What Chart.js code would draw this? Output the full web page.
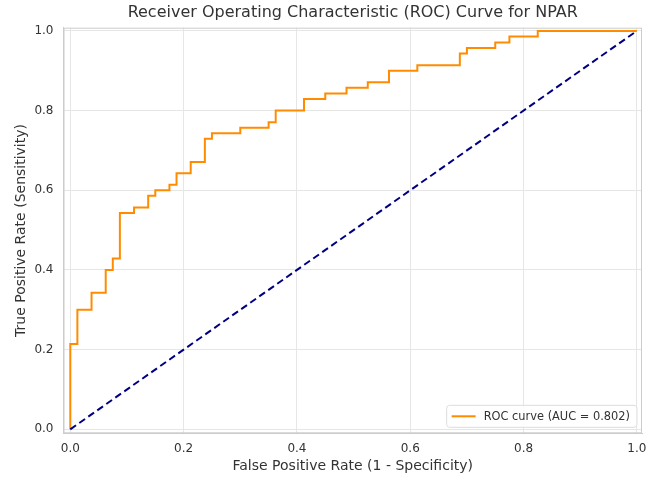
<!DOCTYPE html>
<html>
<head>
<meta charset="utf-8">
<script src="https://cdn.jsdelivr.net/npm/chart.js@4"></script>
<style>
  html, body { margin: 0; padding: 0; background: #fff; }
  #wrap { width: 648px; height: 478px; }
</style>
</head>
<body>
<div id="wrap"><canvas id="roc" width="648" height="478"></canvas></div>
<script>
// ROC curve (step corners)
const fpr = [0, 0, 0.0125, 0.0375, 0.0625, 0.075, 0.0875, 0.1125, 0.1375, 0.15,
  0.175, 0.1875, 0.2125, 0.2375, 0.25, 0.3, 0.35, 0.3625, 0.4125, 0.45,
  0.4875, 0.525, 0.5625, 0.6125, 0.6875, 0.7, 0.75, 0.775, 0.825, 1.0];
const tpr = [0, 0.214, 0.300, 0.343, 0.400, 0.429, 0.543, 0.557, 0.586, 0.600,
  0.614, 0.643, 0.671, 0.729, 0.743, 0.757, 0.771, 0.800, 0.829, 0.843,
  0.857, 0.871, 0.900, 0.914, 0.943, 0.957, 0.971, 0.986, 1.0, 1.0];
const chanceX = [0, 1];
const chanceY = [0, 1];
const tickValues = [0, 0.2, 0.4, 0.6, 0.8, 1.0];
const rocLabel = 'ROC curve (AUC = 0.802)';

const FONT = "'DejaVu Sans', sans-serif";
const TEXT = '#333333';

// legend drawn inside the plot, lower right like matplotlib
const innerLegend = {
  id: 'innerLegend',
  afterDatasetsDraw(chart) {
    const ctx = chart.ctx;
    const area = chart.chartArea;
    ctx.save();
    ctx.font = '11.4px ' + FONT;
    const tw = ctx.measureText(rocLabel).width;
    const w = tw + 44, h = 22;
    const x = area.right - 5 - w, y = area.bottom - 6 - h;
    ctx.beginPath();
    ctx.roundRect(x, y, w, h, 3);
    ctx.fillStyle = 'rgba(255,255,255,0.85)';
    ctx.fill();
    ctx.strokeStyle = '#dddddd';
    ctx.lineWidth = 1;
    ctx.stroke();
    ctx.beginPath();
    ctx.moveTo(x + 5, y + h / 2);
    ctx.lineTo(x + 29, y + h / 2);
    ctx.strokeStyle = '#ff8c00';
    ctx.lineWidth = 2;
    ctx.stroke();
    ctx.fillStyle = TEXT;
    ctx.textBaseline = 'middle';
    ctx.fillText(rocLabel, x + 37, y + h / 2 + 0.5);
    ctx.restore();
  }
};

new Chart(document.getElementById('roc').getContext('2d'), {
  type: 'scatter',
  data: {
    datasets: [
      {
        label: 'Chance',
        data: chanceX.map((x, i) => ({ x: x, y: chanceY[i] })),
        showLine: true,
        borderColor: '#000080',
        borderWidth: 2,
        borderDash: [7, 4],
        pointRadius: 0,
        fill: false
      },
      {
        label: rocLabel,
        data: fpr.map((x, i) => ({ x: x, y: tpr[i] })),
        showLine: true,
        stepped: 'before',
        borderColor: '#ff8c00',
        borderWidth: 2,
        pointRadius: 0,
        fill: false
      }
    ]
  },
  options: {
    responsive: false,
    animation: false,
    layout: { padding: { left: 0, right: 0, top: 0, bottom: 0 } },
    plugins: {
      legend: { display: false },
      tooltip: { enabled: false },
      title: {
        display: true,
        fullSize: false,
        text: 'Receiver Operating Characteristic (ROC) Curve for NPAR',
        color: TEXT,
        font: { family: FONT, size: 16, weight: 'normal' },
        padding: { top: 3.5, bottom: 5 }
      }
    },
    scales: {
      x: {
        type: 'linear',
        min: -0.012,
        max: 1.009,
        afterBuildTicks: s => { s.ticks = tickValues.map(v => ({ value: v })); },
        afterFit: s => { s.height = 44.7; s.paddingRight = 6; },
        ticks: {
          color: TEXT,
          font: { family: FONT, size: 12 },
          padding: 8,
          callback: v => v.toFixed(1)
        },
        grid: { color: '#e6e6e6', lineWidth: 1, drawTicks: false },
        border: { display: true, color: '#cccccc', width: 1 },
        title: {
          display: true,
          text: 'False Positive Rate (1 - Specificity)',
          color: TEXT,
          font: { family: FONT, size: 14 },
          padding: { top: 0, bottom: 3.5 }
        }
      },
      y: {
        type: 'linear',
        min: -0.01,
        max: 1.008,
        afterBuildTicks: s => { s.ticks = tickValues.map(v => ({ value: v })); },
        afterFit: s => { s.width = 63.5; },
        ticks: {
          color: TEXT,
          font: { family: FONT, size: 12 },
          padding: 10,
          callback: v => v.toFixed(1)
        },
        grid: { color: '#e6e6e6', lineWidth: 1, drawTicks: false },
        border: { display: true, color: '#cccccc', width: 1 },
        title: {
          display: true,
          text: 'True Positive Rate (Sensitivity)',
          color: TEXT,
          font: { family: FONT, size: 14 },
          padding: { top: 13, bottom: 0 }
        }
      }
    }
  },
  plugins: [innerLegend, {
    id: 'frame',
    afterDraw(chart) {
      const a = chart.chartArea, ctx = chart.ctx;
      ctx.save();
      ctx.strokeStyle = '#cccccc';
      ctx.lineWidth = 1;
      ctx.strokeRect(a.left + 0.5, a.top + 0.5, a.right - a.left - 1, a.bottom - a.top - 1);
      ctx.restore();
    }
  }]
});
</script>
</body>
</html>
